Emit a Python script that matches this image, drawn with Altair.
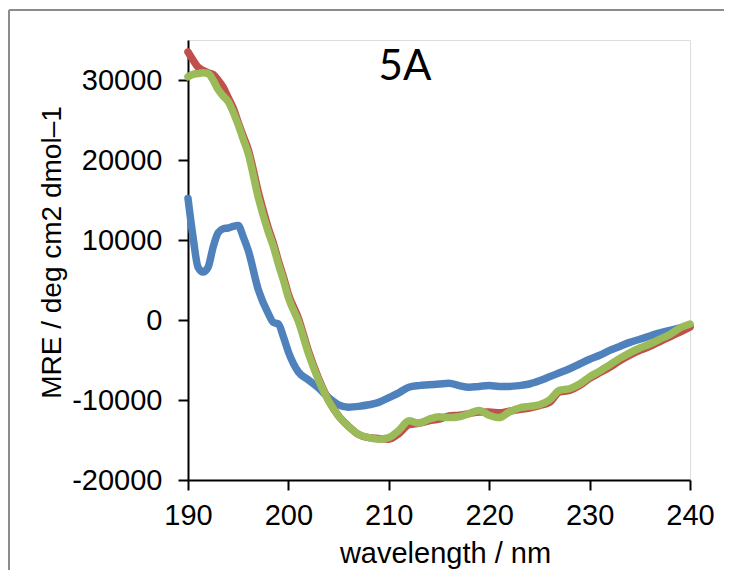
import altair as alt
import pandas as pd

wavelength = [190, 190.5, 191, 191.5, 192, 192.5, 193, 193.5, 194, 194.5, 195, 195.5,
              196, 197, 198, 198.5, 199, 199.5, 200, 201, 202, 203, 204, 205, 206, 207,
              208, 209, 210, 211, 212, 213, 214, 215, 216, 217, 218, 219, 220, 221, 222,
              223, 224, 225, 226, 227, 228, 229, 230, 231, 232, 233, 234, 235, 236, 237,
              238, 239, 240]

mre_blue = [15200, 10400, 6600, 6000, 6600, 9100, 10900, 11400, 11500, 11700, 11800, 10400,
            8700, 3800, 800, -300, -500, -2100, -4000, -6500, -7500, -8500, -9700, -10600,
            -10900, -10800, -10600, -10300, -9700, -9100, -8400, -8200, -8100, -8000, -7900,
            -8200, -8400, -8300, -8200, -8300, -8300, -8200, -8000, -7600, -7100, -6600,
            -6100, -5500, -4900, -4400, -3800, -3300, -2800, -2400, -2000, -1600, -1300,
            -1000, -700]

mre_red = [33500, 32500, 31600, 31200, 30900, 30700, 30000, 29100, 27800, 26500, 24700, 23000,
           21300, 16000, 11500, 9600, 7400, 5400, 3200, 200, -3900, -7300, -10000, -12000,
           -13300, -14300, -14700, -14800, -14900, -14200, -13100, -12900, -12600, -12400,
           -12000, -11900, -11700, -11500, -11500, -11600, -11400, -11200, -11000, -10700,
           -10300, -9000, -8800, -8200, -7300, -6600, -5900, -5100, -4400, -3800, -3300,
           -2700, -2100, -1500, -900]

mre_green = [30400, 30700, 30800, 30900, 30800, 30000, 28800, 28000, 27300, 26000, 24400, 22600,
             20800, 15300, 11000, 9200, 7000, 5000, 2800, -200, -4200, -7500, -10100, -12000,
             -13300, -14300, -14700, -14900, -14700, -13800, -12600, -12900, -12400, -12100,
             -12200, -12100, -11700, -11300, -11900, -12200, -11500, -11000, -10800, -10600,
             -10000, -8800, -8600, -8000, -7100, -6400, -5600, -4800, -4100, -3500, -3000,
             -2400, -1800, -1000, -500]

series_names = ["blue", "red", "green"]
series_colors = ["#4F81BD", "#C0504D", "#9BBB59"]
y_ticks = [-20000, -10000, 0, 10000, 20000, 30000]
x_ticks = [190, 200, 210, 220, 230, 240]
panel_label = "5A"

rows = []
for name, vals in zip(series_names, [mre_blue, mre_red, mre_green]):
    for w, v in zip(wavelength, vals):
        rows.append({"wavelength": w, "MRE": v, "series": name})
df = pd.DataFrame(rows)

FONT = "Liberation Sans"

x_enc = alt.X("wavelength:Q",
              scale=alt.Scale(domain=[190, 240], nice=False, zero=False),
              axis=alt.Axis(values=x_ticks, title="wavelength / nm", grid=False,
                            labelExpr="'' + datum.value", labelFlush=False,
                            labelFont=FONT, labelFontSize=29,
                            labelColor="#000", labelBaseline="alphabetic",
                            labelPadding=34, tickSize=10, tickWidth=2, tickColor="#000",
                            domainColor="#000", domainWidth=2,
                            titleFont=FONT, titleFontSize=29, titleFontWeight="normal",
                            titleColor="#000", titleBaseline="alphabetic",
                            titleX=257, titleY=82))
y_enc = alt.Y("MRE:Q",
              scale=alt.Scale(domain=[-20000, 35000], nice=False, zero=False),
              axis=alt.Axis(values=y_ticks, title="MRE / deg cm2 dmol\u20131", grid=False,
                            labelExpr="'' + datum.value", labelFlush=False,
                            labelFont=FONT, labelFontSize=29,
                            labelColor="#000", labelPadding=16, tickSize=10,
                            tickWidth=2, tickColor="#000", domainColor="#000",
                            domainWidth=2, titleFont=FONT, titleFontSize=28,
                            titleFontWeight="normal", titleColor="#000",
                            titleBaseline="alphabetic", titleX=-128, titleY=212))

lines = alt.Chart(df).mark_line(strokeWidth=7.5, interpolate="monotone",
                                strokeCap="round", strokeJoin="round").encode(
    x=x_enc,
    y=y_enc,
    color=alt.Color("series:N", scale=alt.Scale(domain=series_names, range=series_colors),
                    legend=None),
    order=alt.Order("wavelength:Q"),
    detail="series:N",
)

label = alt.Chart(pd.DataFrame({"t": [panel_label]})).mark_text(
    font="Lato", fontSize=42, color="#000", align="center", baseline="alphabetic"
).encode(text="t:N", x=alt.value(217), y=alt.value(40))

border_top = alt.Chart(pd.DataFrame({"a": [0]})).mark_rule(color="#8c8c8c", strokeWidth=2).encode(
    x=alt.value(-179), x2=alt.value(536), y=alt.value(-30))
border_left = alt.Chart(pd.DataFrame({"a": [0]})).mark_rule(color="#8c8c8c", strokeWidth=2).encode(
    x=alt.value(-179), y=alt.value(-30), y2=alt.value(560))

chart = alt.layer(border_top, border_left, lines, label).properties(
    width=502, height=440,
    padding={"left": 180, "top": 32, "right": 38, "bottom": 90},
    autosize=alt.AutoSizeParams(type="none"),
).configure_view(stroke=None).configure(background="white")

chart.save("out.html", embed_options={"renderer": "svg", "actions": False})
